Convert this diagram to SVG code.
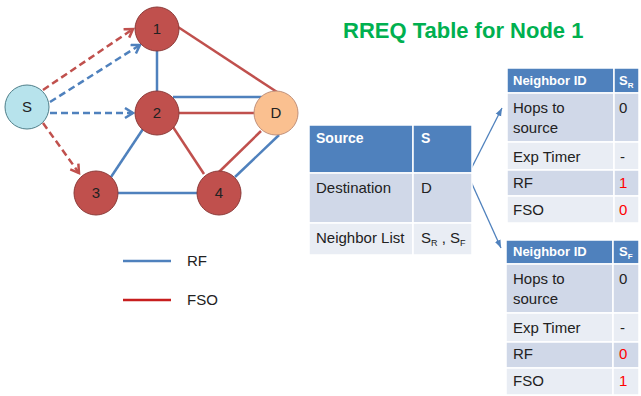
<svg xmlns="http://www.w3.org/2000/svg" width="641" height="396" viewBox="0 0 641 396">
<style>
text{font-family:"Liberation Sans",Arial,sans-serif;fill:#222}
.node{stroke-width:1}
.red{fill:#C0504D;stroke:#8C3A38}
.lbl{font-size:15px;text-anchor:middle}
.eb{stroke:#4F81BD;stroke-width:2.5;fill:none}
.er{stroke:#C0504D;stroke-width:2.5;fill:none}
.db{stroke:#4F81BD;stroke-width:2.5;stroke-dasharray:7 4;fill:none}
.dr{stroke:#C0504D;stroke-width:2.5;stroke-dasharray:7 4;fill:none}
.hd{fill:#4F81BD}
.dk{fill:#D0D8E8}
.lt{fill:#E9EDF4}
.cell{stroke:#fff;stroke-width:1.5}
.ht{font-size:13px;font-weight:bold;fill:#fff}
.mt{font-size:14px;font-weight:bold;fill:#fff}
.t{font-size:15px}
.rv{font-size:15px;fill:#FF0000}
.ta{stroke:#4F81BD;stroke-width:1.3;fill:none}
</style>
<defs>
<marker id="ab" markerUnits="userSpaceOnUse" markerWidth="14" markerHeight="14" refX="10" refY="6" orient="auto">
<path d="M2,1 L10,6 L2,11" fill="none" stroke="#4F81BD" stroke-width="2.5"/>
</marker>
<marker id="ar" markerUnits="userSpaceOnUse" markerWidth="14" markerHeight="14" refX="10" refY="6" orient="auto">
<path d="M2,1 L10,6 L2,11" fill="none" stroke="#C0504D" stroke-width="2.5"/>
</marker>
<marker id="at" markerUnits="userSpaceOnUse" markerWidth="10" markerHeight="10" refX="8" refY="4" orient="auto">
<path d="M0,1 L8,4 L0,7 Z" fill="#4F81BD"/>
</marker>
</defs>

<g id="connectors">
<line class="eb" x1="157" y1="50" x2="157" y2="92"/>
<line class="er" x1="178" y1="27" x2="277" y2="92"/>
<line class="eb" x1="173" y1="97" x2="262" y2="97"/>
<line class="er" x1="179" y1="113" x2="255" y2="113"/>
<line class="er" x1="173" y1="127" x2="204" y2="174"/>
<line class="eb" x1="143" y1="129" x2="111" y2="177"/>
<line class="eb" x1="118" y1="193" x2="197" y2="193"/>
<line class="er" x1="219" y1="172" x2="261" y2="131"/>
<line class="eb" x1="235" y1="177" x2="279" y2="135"/>
<line class="dr" x1="43" y1="90" x2="133" y2="29" marker-end="url(#ar)"/>
<line class="db" x1="50" y1="102" x2="140" y2="45" marker-end="url(#ab)"/>
<line class="db" x1="50" y1="113" x2="133" y2="113" marker-end="url(#ab)"/>
<line class="dr" x1="43" y1="123" x2="79" y2="173" marker-end="url(#ar)"/>
<line class="ta" x1="468" y1="175" x2="502" y2="108" marker-end="url(#at)"/>
<line class="ta" x1="468" y1="175" x2="501" y2="248" marker-end="url(#at)"/>
</g>

<g id="node-S">
<circle cx="27" cy="107" r="22" fill="#B7E3EC" stroke="#4F7F8A" stroke-width="1"/>
<text class="lbl" x="27" y="112">S</text>
</g>
<g id="node-1">
<circle class="red" cx="157" cy="29" r="22"/>
<text class="lbl" x="157" y="34">1</text>
</g>
<g id="node-2">
<circle class="red" cx="157" cy="113" r="22"/>
<text class="lbl" x="157" y="118">2</text>
</g>
<g id="node-D">
<circle cx="276" cy="113" r="22" fill="#FAC090" stroke="#C0907A" stroke-width="1"/>
<text class="lbl" x="276" y="118">D</text>
</g>
<g id="node-3">
<circle class="red" cx="96" cy="193" r="22"/>
<text class="lbl" x="96" y="198">3</text>
</g>
<g id="node-4">
<circle class="red" cx="219" cy="193" r="22"/>
<text class="lbl" x="219" y="198">4</text>
</g>

<g id="legend">
<line x1="123" y1="261" x2="171" y2="261" stroke="#4F81BD" stroke-width="2.5"/>
<text class="t" x="187" y="266">RF</text>
<line x1="123" y1="300" x2="171" y2="300" stroke="#C71E1E" stroke-width="2.5"/>
<text class="t" x="187" y="305">FSO</text>
</g>

<text x="343" y="38" style="font-size:22px;font-weight:bold;fill:#00B050">RREQ Table for Node 1</text>

<g id="main-table">
<rect class="hd cell" x="309" y="125" width="104" height="48"/>
<rect class="hd cell" x="413" y="125" width="59" height="48"/>
<rect class="dk cell" x="309" y="173" width="104" height="50"/>
<rect class="dk cell" x="413" y="173" width="59" height="50"/>
<rect class="lt cell" x="309" y="223" width="104" height="32"/>
<rect class="lt cell" x="413" y="223" width="59" height="32"/>
<text class="mt" x="316" y="143">Source</text>
<text class="mt" x="421" y="143">S</text>
<text class="t" x="316" y="193">Destination</text>
<text class="t" x="421" y="193">D</text>
<text class="t" x="316" y="243">Neighbor List</text>
<text class="t" x="421" y="243">S<tspan font-size="9" dy="3">R</tspan><tspan dy="-3"> , S</tspan><tspan font-size="9" dy="3">F</tspan></text>
</g>

<g id="table-SR">
<rect class="hd cell" x="507" y="68" width="107" height="25"/>
<rect class="hd cell" x="614" y="68" width="25" height="25"/>
<rect class="dk cell" x="507" y="93" width="107" height="49"/>
<rect class="dk cell" x="614" y="93" width="25" height="49"/>
<rect class="lt cell" x="507" y="142" width="107" height="28"/>
<rect class="lt cell" x="614" y="142" width="25" height="28"/>
<rect class="dk cell" x="507" y="170" width="107" height="26"/>
<rect class="dk cell" x="614" y="170" width="25" height="26"/>
<rect class="lt cell" x="507" y="196" width="107" height="27"/>
<rect class="lt cell" x="614" y="196" width="25" height="27"/>
<text class="ht" x="513" y="85">Neighbor ID</text>
<text class="ht" x="619" y="85">S<tspan font-size="8" dy="3">R</tspan></text>
<text class="t" x="513" y="113">Hops to</text>
<text class="t" x="513" y="133">source</text>
<text class="t" x="619" y="113">0</text>
<text class="t" x="513" y="162">Exp Timer</text>
<text class="t" x="620" y="162">-</text>
<text class="t" x="513" y="188">RF</text>
<text class="rv" x="619" y="188">1</text>
<text class="t" x="513" y="215">FSO</text>
<text class="rv" x="619" y="215">0</text>
</g>

<g id="table-SF">
<rect class="hd cell" x="506" y="240" width="107" height="24"/>
<rect class="hd cell" x="613" y="240" width="26" height="24"/>
<rect class="dk cell" x="506" y="264" width="107" height="49"/>
<rect class="dk cell" x="613" y="264" width="26" height="49"/>
<rect class="lt cell" x="506" y="313" width="107" height="29"/>
<rect class="lt cell" x="613" y="313" width="26" height="29"/>
<rect class="dk cell" x="506" y="342" width="107" height="26"/>
<rect class="dk cell" x="613" y="342" width="26" height="26"/>
<rect class="lt cell" x="506" y="368" width="107" height="27"/>
<rect class="lt cell" x="613" y="368" width="26" height="27"/>
<text class="ht" x="513" y="256">Neighbor ID</text>
<text class="ht" x="619" y="256">S<tspan font-size="8" dy="3">F</tspan></text>
<text class="t" x="513" y="284">Hops to</text>
<text class="t" x="513" y="304">source</text>
<text class="t" x="619" y="284">0</text>
<text class="t" x="513" y="333">Exp Timer</text>
<text class="t" x="620" y="333">-</text>
<text class="t" x="513" y="359">RF</text>
<text class="rv" x="619" y="359">0</text>
<text class="t" x="513" y="386">FSO</text>
<text class="rv" x="619" y="386">1</text>
</g>
</svg>
